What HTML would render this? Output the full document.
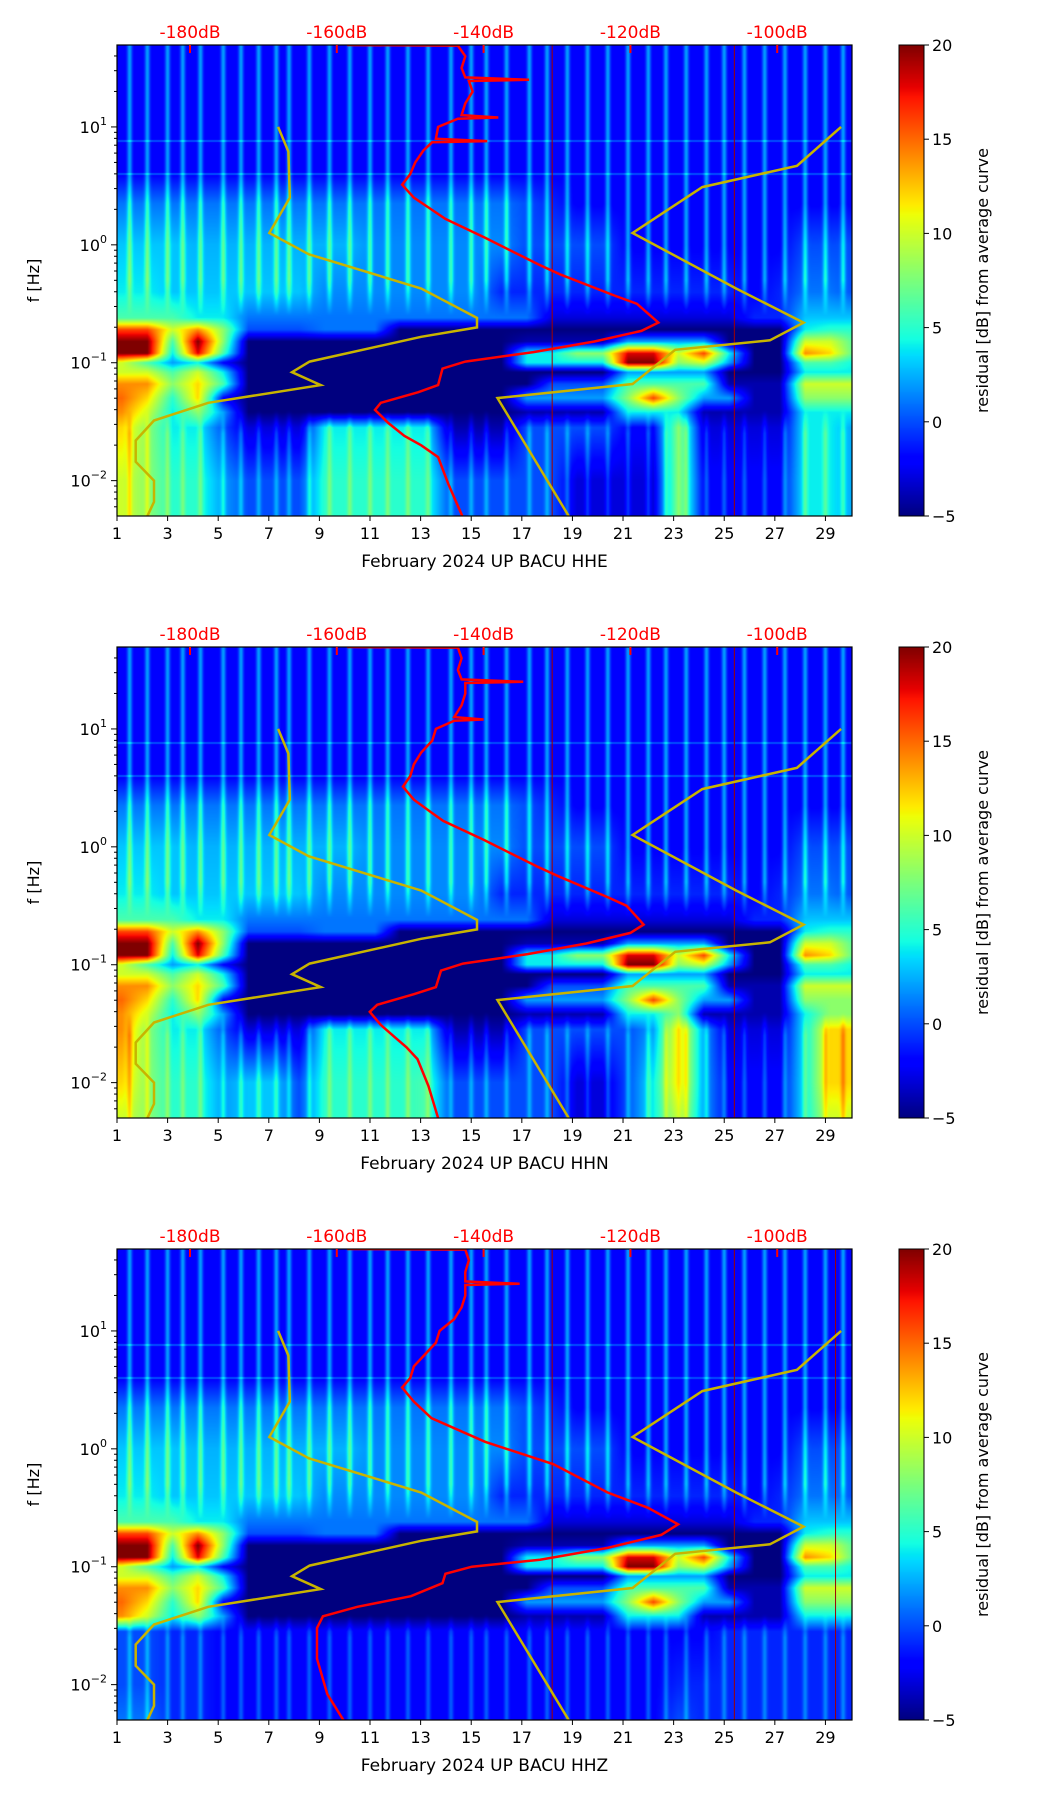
<!DOCTYPE html>
<html><head><meta charset="utf-8">
<style>
body{margin:0;background:#fff;width:1052px;height:1806px;position:relative;overflow:hidden;font-family:"DejaVu Sans","Liberation Sans",sans-serif}
canvas{position:absolute}
svg{position:absolute;left:0;top:0}
</style></head><body>
<div id="root"></div>
<script>
// ---- data ----
const days = [1,2,3,4,5,6,7,8,9,10,11,12,13,14,15,16,17,18,19,20,21,22,23,24,25,26,27,28,29,30];
const rowLogF = [1.7,0.6,0.35,0.0,-0.4,-0.62,-0.72,-0.82,-0.92,-1.0,-1.08,-1.18,-1.3,-1.42,-1.55,-2.0,-2.3];
const baseGrid = [
[-2,-2,-2,-2,-2,-2,-2,-2,-2,-2,-2,-2,-2,-2,-2,-2,-2,-2,-2,-2,-2,-2,-2,-2,-2,-2,-2,-2,-2,-2],
[-2,-2,-2,-2,-2,-2,-2,-2,-2,-2,-2,-2,-2,-2,-2,-2,-2,-2,-2,-2,-2,-2,-2,-2,-2,-2,-2,-2,-2,-2],
[1,1,1,1,1,1,1,1,1,1,1,1,1,1,1,1,0,-1,-2,-2,-2,-2,-2,-2,-2,-2,-2,-2,-2,-2],
[3,3,3,2.5,2.5,2.5,2.5,2.5,2.5,2.5,1.5,1.5,1.5,1.5,1.5,1.5,0,0,0,0,-2,-2,-2,-2,-2,-2,-2,0,0,0],
[4,4,3,3,3,3,3,3,1.5,1.5,1.5,1.5,1.5,1.5,1.5,-1,-1,-1,-1,-1,-1,-1,-1,-1,-1,-2,-1,1,1,0],
[6,6,6,4,4,1,1,1,1,1,1,1,1,1,1,1,1,-3,-3,-3,-3,-3,-3,-3,-3,-1,-1,3,3,3],
[16,16,10,14,8,0,0,0,1,1,1,-5,-5,-5,-5,-5,-5,-5,-5,-5,-5,-5,-5,-5,-5,-5,-5,4,5,5],
[20,20,6,20,8,-5,-5,-5,-5,-5,-5,-5,-5,-5,-5,-5,-4,-4,-4,-4,2,2,2,2,-5,-5,-5,10,10,6],
[20,20,4,18,6,-5,-5,-5,-5,-5,-5,-5,-5,-5,-5,-5,4,4,8,8,18,18,10,16,4,-5,-5,14,12,6],
[10,6,2,4,-2,-5,-5,-5,-5,-5,-5,-5,-5,-5,-5,-5,4,4,4,4,20,20,8,10,2,-5,-5,6,6,4],
[10,10,6,10,4,-5,-5,-5,-5,-5,-5,-5,-5,-5,-5,-5,-5,-5,-5,-5,2,2,2,2,-5,-5,-5,4,4,4],
[14,14,8,12,6,-5,-5,-5,-5,-5,-5,-5,-5,-5,-5,-5,-5,0,0,0,6,6,6,6,-4,-4,-4,10,10,10],
[15,12,5,12,-2,-5,-5,-5,-5,-5,-5,-5,-5,-5,-5,-5,2,2,2,2,8,16,8,2,2,-4,-4,8,8,8],
[14,10,4,8,2,-5,-5,-5,-5,-5,-5,-5,-5,-5,-5,-5,-4,-4,-4,-4,4,4,4,-4,-4,-4,-4,4,4,4],
[12,8,4,4,0,-3,-3,-3,4,4,4,4,4,-4,-4,-4,0,0,0,0,-2,-2,8,-3,-3,-3,-3,4,4,2],
[10,8,5,5,2,0,0,0,5,5,5,5,5,0,0,0,0,0,-3,-3,-3,-3,8,-2,-2,-2,-2,4,4,2],
[10,8,5,5,2,0,0,0,5,5,5,5,5,0,0,0,0,0,-3,-3,-3,-3,8,-2,-2,-2,-2,4,4,2]];
const p2Low = [
[14,10,4,8,2,-5,-5,-5,-5,-5,-5,-5,-5,-5,-5,-5,-4,-4,-4,-4,4,4,8,-4,-4,-4,-4,4,8,8],
[14,8,4,4,0,-3,-3,-3,4,4,4,4,4,-4,-4,-4,0,0,0,0,0,2,12,2,-3,-3,-3,4,12,12],
[12,8,5,5,2,3,3,0,5,5,5,5,6,0,0,0,0,0,-3,-3,0,4,12,2,-2,-2,-2,4,12,12],
[10,8,5,5,2,3,3,0,5,5,5,5,6,0,0,0,0,0,-3,-3,0,4,10,2,-2,-2,-2,4,10,10]];
const p3Low = [
[14,10,4,8,2,-5,-5,-5,-5,-5,-5,-5,-5,-5,-5,-5,-4,-4,-4,-4,4,4,4,-4,-4,-4,-4,4,4,4],
[0,0,-1,-1,-2,-2,-2,-2,-2,-2,-2,-2,-2,-2,-2,-2,-2,-2,-2,-2,-2,-2,-2,-2,-1,-1,-1,-1,-1,-1],
[0,0,-1,-1,-2,-2,-2,-2,-2,-2,-2,-2,-2,-2,-2,-2,-2,-2,-2,-2,-2,-2,-1,-1,-1,-1,-1,-1,-1,-1],
[1,1,-1,-1,-2,-2,-2,-2,-2,-2,-2,-2,-2,-2,-2,-2,-2,-2,-2,-2,-2,-2,0,-1,-1,-1,-1,-1,-1,-1]];
const streakDays = [1.5,2.2,3.0,3.6,4.3,5.2,5.9,6.6,7.3,7.8,8.6,9.4,10.2,11.0,11.7,12.5,13.3,14.2,15.0,15.6,16.4,17.3,18.0,18.8,19.6,20.4,21.2,22.0,22.7,23.5,24.3,25.0,25.8,26.6,27.4,28.2,29.0,29.7];
const redLines = [[18.2,25.4],[18.2,25.4],[18.2,25.4,29.4]];
const dbTicks = [-180,-160,-140,-120,-100];
const dayTicks = [1,3,5,7,9,11,13,15,17,19,21,23,25,27,29];
const cbTicks = [20,15,10,5,0,-5];
const titles = ["February 2024 UP BACU  HHE","February 2024 UP BACU  HHN","February 2024 UP BACU  HHZ"];
const red1LogF = [1.695,1.69,1.6,1.5,1.42,1.40,1.39,1.3,1.2,1.1,1.08,1.07,1.0,0.9,0.88,0.87,0.8,0.7,0.6,0.51,0.4,0.30,0.22,0.06,-0.17,-0.25,-0.43,-0.50,-0.66,-0.73,-0.82,-0.91,-0.99,-1.05,-1.19,-1.25,-1.34,-1.40,-1.51,-1.62,-1.70,-1.80,-2.03,-2.3];
const red1Db = [-158.6,-143.5,-142.5,-143,-142.5,-133.8,-142,-141.5,-142.5,-143,-138,-143.5,-146.2,-146.5,-139.5,-147,-148.2,-149.3,-150,-151.1,-149.5,-147.1,-145.2,-139.8,-132.4,-129.6,-122.2,-119.1,-116.2,-118.5,-124.9,-133.2,-142.5,-145.6,-146.2,-148.9,-154.0,-154.8,-153.0,-150.8,-148.5,-146.2,-144.8,-142.9];
const red2LogF = [1.695,1.69,1.6,1.5,1.42,1.40,1.39,1.3,1.2,1.1,1.08,1.07,1.0,0.9,0.8,0.7,0.6,0.51,0.4,0.30,0.22,0.06,-0.17,-0.25,-0.43,-0.50,-0.66,-0.73,-0.82,-0.91,-0.99,-1.05,-1.19,-1.25,-1.34,-1.40,-1.51,-1.62,-1.70,-1.80,-2.03,-2.3];
const red2Db = [-158.6,-143.5,-143,-143.5,-143,-134.6,-142.5,-142.5,-143,-144,-140,-144,-146.5,-147,-148.5,-149.5,-150,-151,-149.5,-147.3,-145.5,-140,-132.6,-129.8,-123,-120.5,-118.2,-120,-126,-134,-142.8,-145.8,-146.5,-149.5,-154.5,-155.5,-154,-152,-150.5,-149,-147.5,-146.2];
const red3LogF = [1.695,1.69,1.6,1.5,1.42,1.40,1.39,1.3,1.2,1.1,1.0,0.9,0.8,0.7,0.6,0.52,0.4,0.26,0.06,-0.13,-0.37,-0.50,-0.64,-0.73,-0.84,-0.94,-1.0,-1.06,-1.14,-1.25,-1.34,-1.42,-1.52,-1.78,-2.08,-2.31];
const red3Db = [-158.6,-142.5,-142,-142.5,-142.5,-135.1,-142.5,-142.5,-143,-144,-146,-146.5,-148,-149.5,-150,-151.1,-149.5,-147.1,-139.8,-130.5,-123.1,-117.6,-113.5,-115.8,-123.1,-132.3,-141.6,-145.2,-145.6,-149.9,-157.2,-161.9,-162.7,-162.7,-161.3,-159.0];
const nlnmLogF = [1.0,0.79,0.40,0.10,-0.08,-0.37,-0.62,-0.70,-0.78,-0.99,-1.08,-1.19,-1.34,-1.49,-1.66,-1.84,-2.0,-2.18,-2.3];
const nlnmDb = [-168.0,-166.6,-166.4,-169.2,-163.8,-148.5,-140.9,-140.9,-148.5,-163.7,-166.1,-162.2,-177.5,-184.9,-187.4,-187.4,-184.9,-184.9,-185.8];
const nhnmLogF = [1.0,0.67,0.49,0.10,-0.37,-0.66,-0.81,-0.89,-1.18,-1.30,-2.3];
const nhnmDb = [-91.3,-97.3,-110.2,-119.7,-105.6,-96.4,-101.0,-113.9,-119.7,-138.1,-128.4];

// ---- layout ----
const PL=117, PR=852, PH=471, tops=[45,647,1249];
const DMIN=1, DMAX=30.05, LTOP=1.695, LBOT=-2.30;
const xDay = d => PL + (d-DMIN)/(DMAX-DMIN)*(PR-PL);
const yLog = (t,L) => t + (LTOP-L)/(LTOP-LBOT)*PH;
const xDb = db => 190 + (db+180)*7.34;
const CBX=899, CBW=25;

function jet(t){t=Math.max(0,Math.min(1,t));
 const r=t<0.35?0:t<0.66?(t-0.35)/0.31:t<0.89?1:1-(t-0.89)/0.11*0.5;
 const g=t<0.125?0:t<0.375?(t-0.125)/0.25:t<0.64?1:t<0.91?1-(t-0.64)/0.27:0;
 const b=t<0.11?0.5+t/0.11*0.5:t<0.34?1:t<0.65?1-(t-0.34)/0.31:0;
 return [r*255|0,g*255|0,b*255|0];}

const root=document.getElementById('root');
const NS='http://www.w3.org/2000/svg';
const svg=document.createElementNS(NS,'svg');
svg.setAttribute('width',1052);svg.setAttribute('height',1806);


function el(tag,attrs,parent,txt){const e=document.createElementNS(NS,tag);for(const k in attrs)e.setAttribute(k,attrs[k]);if(txt!==undefined)e.textContent=txt;(parent||svg).appendChild(e);return e;}

function interpGrid(grid,L,d){
 let i=0;while(i<rowLogF.length-2&&L<rowLogF[i+1])i++;
 let fr=(rowLogF[i]-L)/(rowLogF[i]-rowLogF[i+1]);fr=Math.max(0,Math.min(1,fr));
 let c=d-1.2;let j=Math.floor(c);let fc=c-j;
 if(j<0){j=0;fc=0;} if(j>=days.length-1){j=days.length-2;fc=1;}
 const a=grid[i][j]*(1-fc)+grid[i][j+1]*fc, b=grid[i+1][j]*(1-fc)+grid[i+1][j+1]*fc;
 return a*(1-fr)+b*fr;}
function streakWeight(L){
 if(L>-0.3)return 1; if(L>-0.6)return (L+0.6)/0.3;
 if(L<-1.6)return 0.6; if(L<-1.4)return 0.6*(-1.4-L)/0.2; return 0;}

for(let p=0;p<3;p++){
 const top=tops[p];
 const grid=baseGrid.map(r=>r.slice());
 if(p===1){for(let k=0;k<4;k++)grid[13+k]=p2Low[k];}
 if(p===2){for(let k=0;k<4;k++)grid[13+k]=p3Low[k];}
 const W=PR-PL;
 const cv=document.createElement('canvas');cv.width=W;cv.height=PH;
 cv.style.left=PL+'px';cv.style.top=top+'px';
 
 
 root.appendChild(cv);
 const ctx=cv.getContext('2d');const img=ctx.createImageData(W,PH);
 const sc=new Float32Array(W);
 for(let x=0;x<W;x++){const d=DMIN+(x+0.5)/W*(DMAX-DMIN);let s=0;
  for(const sd of streakDays){const v=Math.exp(-Math.pow((d-sd)/0.1,2));if(v>s)s=v;}sc[x]=s;}
 for(let y=0;y<PH;y++){const L=LTOP-(y+0.5)/PH*(LTOP-LBOT);
  const w=streakWeight(L);
  const hl=(Math.abs(L-0.88)<0.008||Math.abs(L-0.6)<0.008)?2:0;
  for(let x=0;x<W;x++){const d=DMIN+(x+0.5)/W*(DMAX-DMIN);
   let v=interpGrid(grid,L,d)+w*sc[x]*4+hl;
   const c=jet((v+5)/25);const o=(y*W+x)*4;
   img.data[o]=c[0];img.data[o+1]=c[1];img.data[o+2]=c[2];img.data[o+3]=255;}}
 ctx.putImageData(img,0,0);

 const g=el('g',{});
 for(const d of redLines[p]){const l=el('line',{x1:xDay(d),x2:xDay(d),y1:top,y2:top+PH,stroke:'#a00000','stroke-width':1},g);
  }
 const lineGen=(lf,db)=>lf.map((L,i)=>xDb(db[i]).toFixed(1)+','+yLog(top,L).toFixed(1)).join(' ');
 const clipId='clip'+p;
 const cp=el('clipPath',{id:clipId},g);el('rect',{x:PL,y:top,width:PR-PL,height:PH},cp);
 const n1=el('polyline',{points:lineGen(nlnmLogF,nlnmDb),fill:'none',stroke:'#c8b400','stroke-width':2.5,'clip-path':'url(#'+clipId+')'},g);
 
 const n2=el('polyline',{points:lineGen(nhnmLogF,nhnmDb),fill:'none',stroke:'#c8b400','stroke-width':2.5,'clip-path':'url(#'+clipId+')'},g);
 
 const rl=[[red1LogF,red1Db],[red2LogF,red2Db],[red3LogF,red3Db]][p];
 const rc=el('polyline',{points:lineGen(rl[0],rl[1]),fill:'none',stroke:'#ff0000','stroke-width':2.5,'clip-path':'url(#'+clipId+')'},g);
 
 const fr=el('rect',{x:PL,y:top,width:PR-PL,height:PH,fill:'none',stroke:'#000','stroke-width':1.2},g);
 
 for(const db of dbTicks){const x=xDb(db);
  el('line',{x1:x,x2:x,y1:top,y2:top+8,stroke:'#ff0000','stroke-width':2},g);
  const t=el('text',{x:x,y:top-7,'text-anchor':'middle','font-size':17,fill:'#ff0000'},g,db+'dB');
  }
 for(const d of dayTicks){const x=xDay(d);
  el('line',{x1:x,x2:x,y1:top+PH,y2:top+PH+5,stroke:'#000'},g);
  const t=el('text',{x:x,y:top+PH+23,'text-anchor':'middle','font-size':16,fill:'#000'},g,d);
  }
 const xt=el('text',{x:(PL+PR)/2,y:top+PH+51,'text-anchor':'middle','font-size':17,fill:'#000'},g,titles[p]);
 
 for(let e=-3;e<=1;e++){for(let m=1;m<10;m++){const L=e+Math.log10(m);if(L>LTOP||L<LBOT)continue;
   const y=yLog(top,L);el('line',{x1:PL-(m===1?6:3),x2:PL,y1:y,y2:y,stroke:'#000'},g);
   if(m===1){const t=el('text',{x:PL-10,y:y+6,'text-anchor':'end','font-size':16,fill:'#000'},g);
    
    el('tspan',{},t,'10');el('tspan',{dy:-8,'font-size':11},t,e<0?'\u2212'+(-e):String(e));}}}
 const yt=el('text',{x:0,y:0,transform:'translate(39,'+(top+PH/2)+') rotate(-90)','text-anchor':'middle','font-size':16,fill:'#000'},g,'f [Hz]');
 
 const cb=document.createElement('canvas');cb.width=CBW;cb.height=PH;cb.style.left=CBX+'px';cb.style.top=top+'px';
 root.appendChild(cb);
 const cx=cb.getContext('2d');for(let y=0;y<PH;y++){const c=jet(1-(y+0.5)/PH);cx.fillStyle='rgb('+c+')';cx.fillRect(0,y,CBW,1);}
 el('rect',{x:CBX,y:top,width:CBW,height:PH,fill:'none',stroke:'#000'},g);
 for(const v of cbTicks){const y=top+(20-v)/25*PH;
  el('line',{x1:CBX+CBW,x2:CBX+CBW+5,y1:y,y2:y,stroke:'#000'},g);
  const t=el('text',{x:CBX+CBW+8,y:y+6,'font-size':16,fill:'#000'},g,v<0?'\u2212'+(-v):v);
  }
 const ct=el('text',{x:0,y:0,transform:'translate(988,'+(top+PH/2)+') rotate(-90)','text-anchor':'middle','font-size':16,fill:'#000'},g,'residual [dB] from average curve');
 
}
root.appendChild(svg);
</script>
</body></html>
